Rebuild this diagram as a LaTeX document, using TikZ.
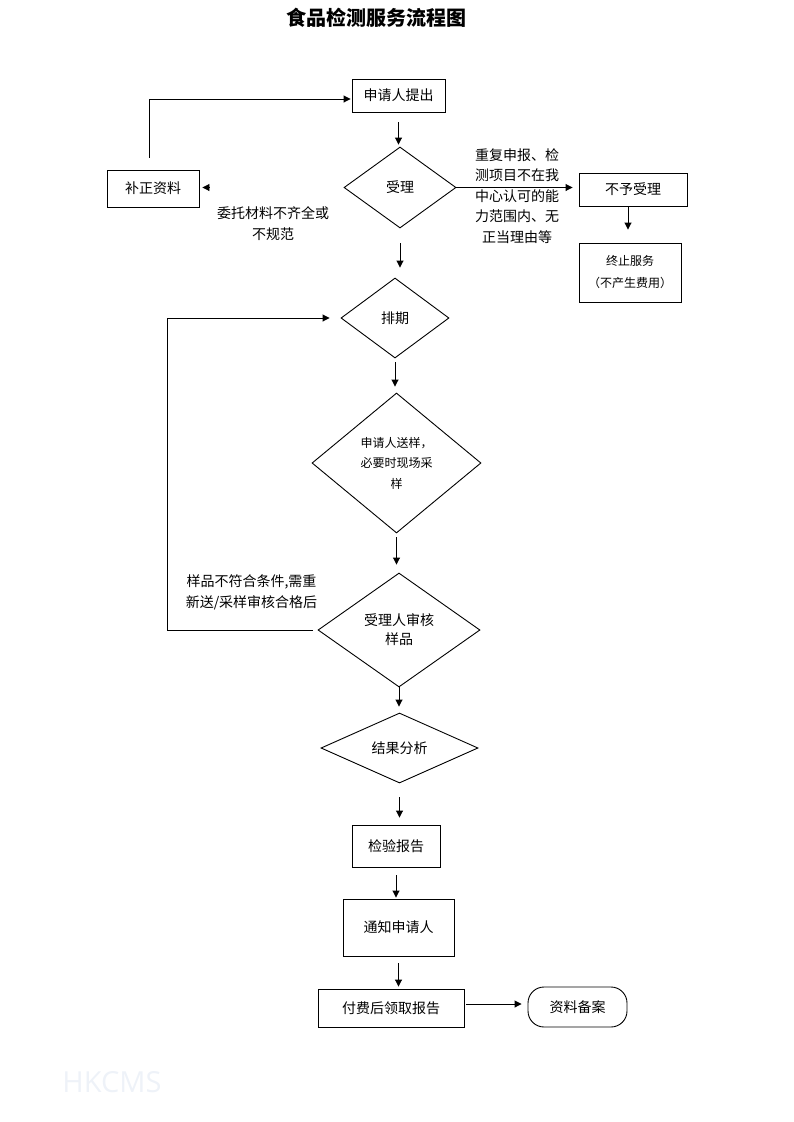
\documentclass[tikz,border=0pt]{standalone}
\usepackage{fontspec}
\setmainfont{Noto Sans CJK SC}
\newfontfamily\wmfont{Open Sans}
\usetikzlibrary{shapes.geometric,arrows.meta,calc}
\definecolor{wmcol}{RGB}{238,242,248}
\tikzset{
  box/.style={draw, line width=0.9pt, rectangle, inner sep=0pt, font=\fontsize{14}{20}\selectfont},
  dia/.style={draw, line width=0.9pt, diamond, inner sep=0pt, align=center, font=\fontsize{14}{19}\selectfont},
  lbl/.style={align=center, inner sep=0pt, font=\fontsize{14}{21}\selectfont},
  arr/.style={line width=0.9pt, -{Triangle[length=7pt,width=7pt]}},
}
\begin{document}
\begin{tikzpicture}[x=1pt,y=-1pt]
\useasboundingbox (0,0) rectangle (793,1122);
% title
\node[inner sep=0pt, font=\fontsize{20}{24}\selectfont\bfseries] (title) at (376.5,18) {食品检测服务流程图};
% nodes
\node[box, minimum width=93pt, minimum height=33pt] (tijiao) at (398.5,95.5) {申请人提出};
\node[box, minimum width=92pt, minimum height=37pt] (buzheng) at (153,188.5) {补正资料};
\node[dia, minimum width=112pt, minimum height=81pt] (shouli) at (400,187.5) {受理};
\node[box, minimum width=108pt, minimum height=33pt] (buyu) at (633,189.5) {不予受理};
\node[box, minimum width=102pt, minimum height=59pt, align=center, font=\fontsize{12}{22}\selectfont] (zhongzhi) at (630,272.5) {终止服务\\（不产生费用）};
\node[dia, minimum width=108pt, minimum height=80pt] (paiqi) at (395,318) {排期};
\node[dia, minimum width=169pt, minimum height=140pt, font=\fontsize{12}{20.5}\selectfont] (songyang) at (396.5,463) {申请人送样，\\必要时现场采\\样};
\node[dia, minimum width=162pt, minimum height=114pt] (shenhe) at (399,630) {受理人审核\\样品};
\node[dia, minimum width=157pt, minimum height=70pt] (jieguo) at (399.5,748) {结果分析};
\node[box, minimum width=88pt, minimum height=42pt] (jianyan) at (396,846) {检验报告};
\node[box, minimum width=111pt, minimum height=57pt] (tongzhi) at (398.5,927.5) {通知申请人};
\node[box, minimum width=146pt, minimum height=38pt] (fufei) at (391,1008) {付费后领取报告};
\node[box, minimum width=99pt, minimum height=40pt, rounded corners=16pt] (ziliao) at (577.5,1007) {资料备案};
% labels
\node[lbl] (lbl1) at (273,223.5) {委托材料不齐全或\\不规范};
\node[lbl, font=\fontsize{14}{20.5}\selectfont] (lbl2) at (517,196) {重复申报、检\\测项目不在我\\中心认可的能\\力范围内、无\\正当理由等};
\node[lbl] (lbl3) at (251.5,592.5) {样品不符合条件,需重\\新送/采样审核合格后};
\node[inner sep=0pt, text=wmcol, font=\wmfont\fontsize{29}{30}\selectfont] (wm) at (112,1082) {HKCMS};
\coordinate (loop) at (167,631);
% connectors
\draw[arr, shorten <=10pt, shorten >=2pt] (tijiao.south) -- (tijiao.south |- shouli.north);
\draw[arr, shorten <=15pt, shorten >=10pt] (shouli.south) -- (shouli.south |- paiqi.north);
\draw[arr, shorten <=4pt, shorten >=6pt] (paiqi.south) -- (paiqi.south |- songyang.north);
\draw[arr, shorten <=4pt, shorten >=8pt] (songyang.south) -- (songyang.south |- shenhe.north);
\draw[arr, shorten >=6pt] (shenhe.south) -- (shenhe.south |- jieguo.north);
\draw[arr, shorten <=14pt, shorten >=7pt] (jieguo.south) -- (jieguo.south |- jianyan.north);
\draw[arr, shorten <=8pt, shorten >=1pt] (jianyan.south) -- (jianyan.south |- tongzhi.north);
\draw[arr, shorten <=7pt, shorten >=2pt] (tongzhi.south) -- (tongzhi.south |- fufei.north);
\draw[arr, shorten <=2pt, shorten >=6pt] ([yshift=4pt]fufei.east) -- ([yshift=4pt]fufei.east -| ziliao.west);
\draw[arr, shorten >=6pt] (shouli.east) -- (shouli.east -| buyu.west);
\draw[arr, shorten >=13pt] ([xshift=-5pt]buyu.south) -- ([xshift=-5pt]buyu.south |- zhongzhi.north);
\draw[arr, shorten <=135pt, shorten >=3pt] (shouli.west) -- (shouli.west -| buzheng.east);
\draw[arr, shorten >=1pt] ([xshift=-4pt,yshift=12pt]buzheng.north) |- ([yshift=-3.5pt]tijiao.west);
\draw[arr, shorten <=5pt, shorten >=11pt] (shenhe.west) -- (shenhe.west -| loop) |- (paiqi.west);
\end{tikzpicture}
\end{document}
